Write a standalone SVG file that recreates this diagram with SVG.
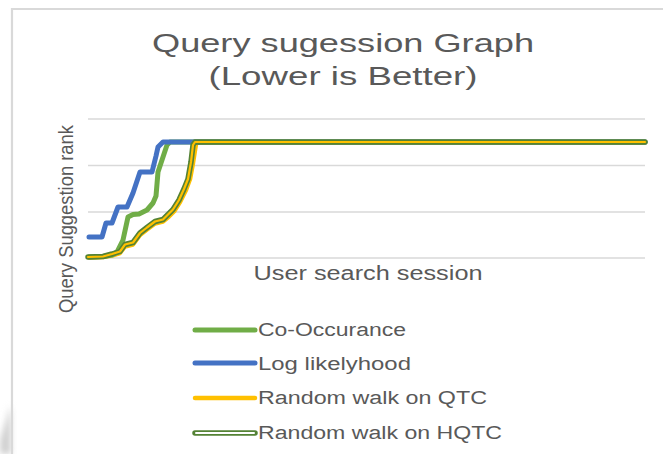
<svg xmlns="http://www.w3.org/2000/svg" width="663" height="454" viewBox="0 0 663 454">
  <defs>
    <filter id="soft" x="-50%" y="-50%" width="200%" height="200%">
      <feGaussianBlur stdDeviation="3"/>
    </filter>
  </defs>
  <style>
    .txt { font-family: "Liberation Sans", Arial, sans-serif; fill: #595959; }
    .grid { stroke: #d9d9d9; stroke-width: 1.5; fill: none; }
    .series { fill: none; stroke-linejoin: round; stroke-linecap: round; }
    .co { stroke: #70ad47; stroke-width: 5; }
    .ll { stroke: #4472c4; stroke-width: 5; }
    .qtc { stroke: #ffc000; stroke-width: 4.5; }
    .hqtc-out { stroke: #548235; stroke-width: 5.5; }
    .hqtc-in { stroke: #ffc000; stroke-width: 2.2; }
    .key-in { stroke: #ffffff; stroke-width: 2; }
  </style>

  <rect width="663" height="454" fill="#ffffff"/>

  <!-- chart frame -->
  <g id="frame">
    <polygon points="11,405 11,454 0,454 0,440" fill="#d0d0d0" filter="url(#soft)"/>
    <path d="M12,454 V9 H663" fill="none" stroke="#d9d9d9" stroke-width="2.2"/>
  </g>

  <!-- title -->
  <g id="title">
    <text class="txt" x="343" y="52" font-size="25" text-anchor="middle" textLength="382" lengthAdjust="spacingAndGlyphs">Query sugession Graph</text>
    <text class="txt" x="343" y="85" font-size="25" text-anchor="middle" textLength="269" lengthAdjust="spacingAndGlyphs">(Lower is Better)</text>
  </g>

  <!-- gridlines -->
  <g id="gridlines">
    <line class="grid" x1="88" y1="119" x2="645" y2="119"/>
    <line class="grid" x1="88" y1="165.5" x2="645" y2="165.5"/>
    <line class="grid" x1="88" y1="212" x2="645" y2="212"/>
    <line class="grid" x1="88" y1="258" x2="645" y2="258"/>
  </g>

  <!-- axis titles -->
  <g id="axis-titles">
    <text class="txt" transform="translate(73,219) rotate(-90)" font-size="21" text-anchor="middle" textLength="188" lengthAdjust="spacingAndGlyphs">Query Suggestion rank</text>
    <text class="txt" x="368" y="280" font-size="20" text-anchor="middle" textLength="229" lengthAdjust="spacingAndGlyphs">User search session</text>
  </g>

  <!-- series -->
  <g id="series">
    <path id="series-qtc" class="series qtc" d="M89,257.5 L103,257 L112,255.5 L120,253 L125,246.5 L133,244.5 L140,235 L147,229.5 L155,223.5 L163,221.5 L169,216.5 L174,211.5 L180,202 L186,190 L190,179 L193,163 L196,144 L198,142.5 L645,142.5"/>
    <path id="series-co" class="series co" d="M89,257 L103,256.5 L112,255 L117,252 L123,240 L128,217 L133,214.5 L139,214 L147,210 L153,203 L156,196 L158,172 L163,157 L167,145 L170,142 L645,142"/>
    <path id="series-ll" class="series ll" d="M89,237 L102,237 L106,223 L112,223 L118,207 L127,207 L133,193 L140,172 L152,172 L156,156 L158,147 L163,142 L645,142"/>
    <path id="series-hqtc" class="series hqtc-out" d="M88,257 L103,256.5 L112,254 L120,251.5 L125,244.5 L133,242.5 L140,233 L147,227.5 L155,221.5 L163,219.5 L168,214.5 L173,209.5 L179,200 L184,189 L188,179 L191,162 L193,145 L195,142 L645,142"/>
    <path class="series hqtc-in" d="M88,257 L103,256.5 L112,254 L120,251.5 L125,244.5 L133,242.5 L140,233 L147,227.5 L155,221.5 L163,219.5 L168,214.5 L173,209.5 L179,200 L184,189 L188,179 L191,162 L193,145 L195,142 L645,142"/>
  </g>

  <!-- legend -->
  <g id="legend">
    <g id="legend-co">
      <line class="series co" x1="195" y1="330" x2="255" y2="330"/>
      <text class="txt" x="258" y="336" font-size="18" textLength="148" lengthAdjust="spacingAndGlyphs">Co-Occurance</text>
    </g>
    <g id="legend-ll">
      <line class="series ll" x1="195" y1="363" x2="255" y2="363"/>
      <text class="txt" x="258" y="370" font-size="18" textLength="153" lengthAdjust="spacingAndGlyphs">Log likelyhood</text>
    </g>
    <g id="legend-qtc">
      <line class="series qtc" x1="195" y1="398" x2="255" y2="398"/>
      <text class="txt" x="258" y="404" font-size="18" textLength="229" lengthAdjust="spacingAndGlyphs">Random walk on QTC</text>
    </g>
    <g id="legend-hqtc">
      <line class="series hqtc-out" x1="195" y1="433" x2="255" y2="433"/>
      <line class="series key-in" x1="196" y1="433" x2="254" y2="433"/>
      <text class="txt" x="258" y="439" font-size="18" textLength="244" lengthAdjust="spacingAndGlyphs">Random walk on HQTC</text>
    </g>
  </g>
</svg>
